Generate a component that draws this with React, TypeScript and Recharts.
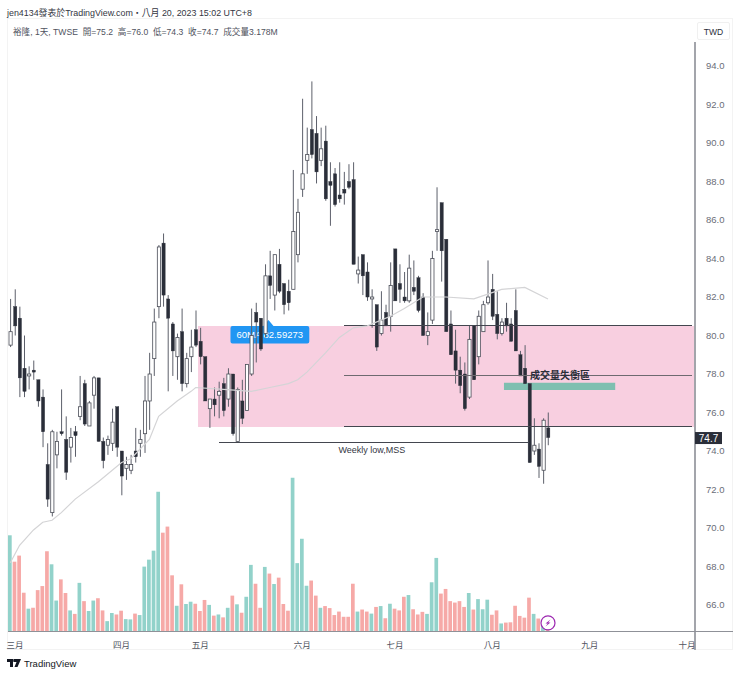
import {
  Bar,
  Cell,
  ComposedChart,
  Line,
  ReferenceArea,
  ReferenceDot,
  ReferenceLine,
  XAxis,
  YAxis,
} from "recharts";

// daily candles, 裕隆 TWSE
const opens = [
  79.5, 81.5, 80.9, 78.3, 77.9, 78.2, 77.7, 76.8, 73.3, 70.8, 73.8, 75.0, 74.6, 74.2, 75.0, 75.8,
  77.5, 75.3, 76.9, 77.8, 74.5, 74.3, 74.4, 76.3, 74.0, 73.1, 73.0, 74.0, 74.4, 74.9, 76.6, 78.8,
  81.5, 84.8, 81.9, 80.6, 78.9, 80.2, 77.5, 78.9, 80.3, 79.7, 78.9, 76.2, 76.7, 76.9, 77.5, 76.7,
  78.0, 74.5, 76.6, 76.1, 78.0, 81.2, 80.9, 80.1, 83.1, 82.1, 83.7, 82.7, 82.3, 82.4, 84.2, 87.6,
  89.1, 90.7, 90.5, 89.1, 90.1, 88.0, 88.4, 87.3, 87.6, 88.0, 88.1, 83.2, 84.2, 83.3, 81.9, 81.6,
  80.1, 81.2, 81.0, 84.5, 82.7, 82.0, 81.8, 82.5, 83.0, 82.0, 80.0, 80.8, 85.4, 86.9, 85.0, 80.6,
  79.2, 78.2, 78.0, 76.8, 80.5, 78.9, 80.2, 81.7, 82.4, 81.1, 80.1, 80.9, 80.6, 81.3, 79.0, 78.3,
  77.5, 74.0, 74.1, 73.0, 75.2,
];
const closes = [
  80.2, 80.5, 77.8, 77.1, 78.0, 78.1, 76.6, 75.0, 71.5, 75.0, 74.5, 74.9, 72.9, 74.7, 74.8, 76.3,
  75.4, 76.5, 77.8, 74.5, 73.5, 74.6, 75.5, 74.2, 72.7, 73.3, 73.3, 73.7, 74.6, 76.6, 78.0, 80.7,
  84.6, 82.1, 80.9, 79.2, 79.9, 77.5, 78.8, 79.4, 79.5, 78.9, 76.6, 76.7, 76.4, 77.1, 76.1, 78.0,
  74.9, 77.2, 75.7, 78.5, 80.0, 80.7, 79.3, 83.1, 82.6, 84.2, 82.3, 81.6, 81.7, 85.4, 86.4, 88.4,
  89.4, 89.4, 88.5, 89.7, 87.1, 87.8, 86.8, 87.1, 87.4, 87.7, 83.7, 83.4, 83.1, 82.0, 82.0, 79.4,
  80.8, 80.5, 82.6, 81.8, 82.4, 81.8, 83.5, 82.3, 81.3, 80.0, 80.2, 84.0, 85.5, 84.4, 80.2, 79.0,
  78.2, 77.4, 76.2, 79.8, 77.7, 81.0, 81.6, 82.0, 81.0, 80.1, 80.7, 80.5, 79.7, 79.2, 77.9, 77.5,
  73.4, 74.3, 73.2, 75.6, 74.7,
];
const highs = [
  81.9, 82.4, 81.5, 80.0, 78.4, 78.7, 77.7, 77.2, 74.4, 75.1, 75.0, 77.2, 75.8, 75.2, 75.3, 77.9,
  77.7, 76.6, 77.9, 77.8, 74.7, 74.8, 76.2, 76.3, 74.0, 73.7, 73.8, 75.2, 75.1, 77.9, 79.1, 81.4,
  84.7, 85.3, 82.1, 80.7, 80.1, 81.4, 79.1, 80.3, 81.3, 80.4, 78.9, 76.7, 77.3, 77.6, 77.8, 78.3,
  78.0, 77.3, 77.7, 78.5, 81.4, 81.7, 80.9, 83.7, 84.4, 84.2, 84.5, 82.7, 82.9, 88.6, 87.1, 92.3,
  90.8, 93.2, 91.4, 90.8, 90.9, 89.0, 88.7, 89.0, 88.5, 88.9, 89.0, 84.1, 84.2, 83.8, 82.4, 81.6,
  82.3, 81.6, 83.8, 84.5, 83.7, 83.3, 84.2, 83.9, 83.1, 82.2, 81.2, 84.4, 87.7, 86.9, 85.0, 81.3,
  80.3, 78.9, 78.6, 80.5, 80.5, 81.3, 81.8, 83.9, 83.2, 82.3, 80.9, 81.7, 80.9, 82.4, 79.2, 79.5,
  77.5, 75.7, 74.4, 75.7, 76.0,
];
const lows = [
  79.4, 80.0, 76.8, 76.8, 77.2, 77.7, 76.3, 74.2, 71.1, 70.6, 73.1, 74.8, 72.5, 73.4, 73.7, 75.6,
  75.3, 75.3, 76.2, 74.5, 73.1, 73.8, 74.0, 73.7, 71.7, 72.5, 72.8, 73.4, 73.7, 73.9, 75.1, 77.9,
  80.9, 81.5, 77.1, 77.9, 77.7, 77.1, 77.3, 78.1, 79.4, 78.5, 76.6, 75.2, 75.8, 75.7, 75.8, 76.3,
  74.8, 74.5, 75.4, 76.1, 77.9, 78.6, 79.2, 79.9, 81.9, 81.3, 82.2, 81.1, 81.3, 82.4, 83.8, 87.2,
  88.4, 89.2, 87.9, 88.8, 87.0, 85.7, 86.7, 86.9, 86.8, 87.6, 83.7, 82.7, 82.1, 81.8, 80.4, 79.2,
  80.0, 80.5, 80.2, 81.8, 81.7, 81.7, 81.7, 82.1, 81.2, 80.0, 79.5, 80.6, 84.4, 82.8, 80.2, 79.0,
  77.5, 77.0, 76.1, 76.7, 77.7, 78.5, 80.2, 81.6, 80.8, 79.8, 80.0, 80.2, 79.7, 79.2, 77.9, 77.5,
  73.4, 73.8, 72.6, 72.3, 74.3,
];
// 成交量, millions of shares
const volumes = [
  33.0, 23.9, 26.0, 13.2, 7.7, 8.0, 14.1, 15.5, 27.5, 23.0, 10.5, 17.8, 13.1, 7.1, 5.9, 16.6, 10.3,
  6.9, 10.5, 11.3, 7.1, 3.4, 6.2, 5.7, 7.0, 4.1, 4.0, 6.0, 5.5, 22.2, 24.6, 27.7, 48.0, 33.9, 36.0,
  19.2, 8.7, 16.1, 9.3, 10.1, 9.4, 6.9, 10.7, 9.0, 5.3, 5.7, 4.7, 8.0, 12.2, 9.2, 6.3, 11.8, 22.8,
  16.3, 8.0, 22.1, 19.8, 16.2, 18.4, 9.3, 7.0, 52.8, 23.4, 31.8, 15.6, 17.4, 12.2, 8.0, 8.6, 7.9,
  5.5, 6.7, 4.9, 4.9, 16.3, 6.7, 7.4, 6.7, 6.0, 8.3, 8.6, 4.4, 9.4, 7.7, 7.1, 11.8, 12.4, 7.5, 5.7,
  6.6, 5.9, 16.8, 25.2, 12.9, 14.5, 10.3, 9.8, 10.3, 8.3, 13.1, 7.4, 11.0, 7.5, 10.8, 5.6, 7.1, 2.6,
  2.9, 3.0, 8.7, 5.2, 4.6, 11.5, 5.9, 4.3, 2.2, 3.2,
];
// 60MA, only where the line could be read
const maDays = [
  0, 2, 5, 7, 9, 11, 14, 19, 24, 26, 30, 32, 36, 39, 40, 46, 52, 56, 60, 62, 64, 68, 71, 74, 77, 82,
  85, 89, 94, 100, 106, 111, 116,
];
const maValues = [
  68.2, 69.1, 69.9, 70.3, 70.4, 70.8, 71.5, 72.4, 73.4, 73.6, 74.6, 75.8, 76.6, 77.1, 77.3, 77.2,
  77.1, 77.3, 77.5, 77.7, 78.1, 79.1, 79.9, 80.4, 80.5, 81.0, 81.4, 82.0, 82.0, 81.9, 82.4, 82.5,
  81.9,
];
const monthDays = [1, 24, 41, 63, 83, 104, 125, 146];
const monthLabels = ["三月", "四月", "五月", "六月", "七月", "八月", "九月", "十月"];
const priceTicks = [66, 68, 70, 72, 74, 76, 78, 80, 82, 84, 86, 88, 90, 92, 94];

const SLOTS = 148;
const rows = Array.from({ length: SLOTS }, (_, i) => {
  const maAt = maDays.indexOf(i);
  return {
    day: i,
    open: opens[i] ?? null,
    close: closes[i] ?? null,
    high: highs[i] ?? null,
    low: lows[i] ?? null,
    volume: volumes[i] ?? null,
    ma: maAt >= 0 ? maValues[maAt] : null,
  };
});

const FONT = '"Liberation Sans", "Noto Sans CJK TC", sans-serif';
const DARK = "#2a2e39";
const AXIS = "#a3a5ab";

function Candle(props: any) {
  const { x, y, width, height, payload } = props;
  if (payload.high == null) return null;
  const perUnit = height / (payload.high - payload.low);
  const top = y + (payload.high - Math.max(payload.open, payload.close)) * perUnit;
  const bottom = y + (payload.high - Math.min(payload.open, payload.close)) * perUnit;
  const up = payload.close >= payload.open;
  const cx = x + width / 2;
  return (
    <g>
      <line x1={cx} x2={cx} y1={y} y2={y + height} stroke="#5d606b" strokeWidth={1} />
      <rect
        x={x}
        y={top}
        width={width}
        height={Math.max(bottom - top, 1)}
        fill={up ? "#fff" : DARK}
        stroke={up ? "#4a4d57" : DARK}
        strokeWidth={up ? 0.8 : 0.4}
      />
    </g>
  );
}

function MaTag(props: any) {
  const { x, y, width, height } = props;
  const tip = x + 38;
  return (
    <g>
      <path
        d={`M${x + 2} ${y}H${tip - 5}L${tip} ${y - 6}L${tip + 5} ${y}H${x + width - 2}Q${x + width} ${y} ${x + width} ${y + 2}V${y + height - 2}Q${x + width} ${y + height} ${x + width - 2} ${y + height}H${x + 2}Q${x} ${y + height} ${x} ${y + height - 2}V${y + 2}Q${x} ${y} ${x + 2} ${y}Z`}
        fill="#2196f3"
      />
      <text x={x + 6} y={y + 12.5} fontSize={9.5} fill="#fff" fontFamily={FONT}>
        60MA 82.59273
      </text>
    </g>
  );
}

function LastPriceTag(props: any) {
  const { y } = props.viewBox;
  return (
    <g>
      <rect x={695} y={y - 5.5} width={27} height={12} fill="#2a2e39" />
      <text x={708.5} y={y + 4} fontSize={10} fill="#fff" textAnchor="middle" fontFamily={FONT}>
        74.7
      </text>
    </g>
  );
}

function Bolt(props: any) {
  const { cx, cy } = props;
  return (
    <g>
      <circle cx={cx} cy={cy} r={7} fill="#fff" stroke="#9c27b0" strokeWidth={1.2} />
      <path
        d={`M${cx + 2.5} ${cy - 3.5}L${cx - 2.5} ${cy + 0.5}H${cx - 0.2}L${cx - 2.5} ${cy + 3.5}L${cx + 2.5} ${cy - 0.5}H${cx + 0.2}Z`}
        fill="#9c27b0"
      />
    </g>
  );
}

export default function App() {
  return (
    <div
      style={{
        position: "absolute",
        left: 0,
        top: 0,
        width: 740,
        height: 676,
        background: "#fff",
        fontFamily: FONT,
      }}
    >
      <div
        style={{
          position: "absolute",
          left: 7,
          top: 6,
          fontSize: 8.9,
          color: "#33363f",
          whiteSpace: "nowrap",
        }}
      >
        jen4134發表於TradingView.com・八月 20, 2023 15:02 UTC+8
      </div>
      <div
        style={{
          position: "absolute",
          left: 7,
          top: 18,
          width: 726,
          height: 632,
          border: "1px solid #f3f3f3",
          boxSizing: "border-box",
        }}
      />
      <div
        style={{
          position: "absolute",
          left: 13,
          top: 25,
          fontSize: 8.6,
          color: "#50535e",
          whiteSpace: "pre",
        }}
      >
        裕隆, 1天, TWSE{"  "}開=75.2{"  "}高=76.0{"  "}低=74.3{"  "}收=74.7{"  "}成交量3.178M
      </div>
      <div
        style={{
          position: "absolute",
          left: 697,
          top: 22,
          width: 33,
          height: 18,
          lineHeight: "18px",
          textAlign: "center",
          fontSize: 8.5,
          color: "#2a2e39",
          border: "1px solid #f0f0f0",
          borderRadius: 2,
          boxSizing: "border-box",
        }}
      >
        TWD
      </div>
      {/* the two axes run on past the plot */}
      <div style={{ position: "absolute", left: 694, top: 42, width: 2, height: 608, background: AXIS }} />
      <div style={{ position: "absolute", left: 8, top: 630.5, width: 725, height: 1.4, background: "#8f9198" }} />
      <svg style={{ position: "absolute", left: 7, top: 659 }} width={14} height={9}>
        <path d="M0 0H6V8H3V3H0ZM6.5 0H14L10.5 8H7.5L9.5 3H6.5Z" fill="#131722" />
        <circle cx={8} cy={1.5} r={1.5} fill="#131722" />
      </svg>
      <div
        style={{
          position: "absolute",
          left: 24,
          top: 658,
          fontSize: 9.5,
          color: "#131722",
          whiteSpace: "nowrap",
        }}
      >
        TradingView
      </div>
      <ComposedChart
        width={740}
        height={676}
        data={rows}
        margin={{ top: 46, right: 0, bottom: 0, left: 8 }}
        style={{ position: "absolute", left: 0, top: 0 }}
      >
        <XAxis
          dataKey="day"
          type="category"
          ticks={monthDays}
          interval={0}
          tickFormatter={(d: number) => monthLabels[monthDays.indexOf(d)]}
          tick={{ fontSize: 8.5, fill: "#50535e", fontFamily: FONT }}
          tickLine={false}
          axisLine={false}
          height={45}
          tickMargin={5}
        />
        <XAxis xAxisId="vol" dataKey="day" type="category" hide />
        <YAxis
          yAxisId="price"
          orientation="right"
          domain={[64.65, 95.04]}
          allowDataOverflow
          ticks={priceTicks}
          tickFormatter={(v: number) => v.toFixed(1)}
          tick={{ fontSize: 9.5, fill: "#6a6d78", fontFamily: FONT }}
          tickLine={false}
          axisLine={false}
          width={46}
          tickMargin={6}
        />
        <YAxis yAxisId="vol" domain={[0, 201.7]} allowDataOverflow hide />
        <ReferenceArea
          yAxisId="price"
          x1={41}
          x2={147}
          y1={75.25}
          y2={80.5}
          ifOverflow="visible"
          fill="#f8cfe0"
          fillOpacity={1}
          stroke="none"
        />
        <ReferenceArea
          yAxisId="price"
          x1={48}
          x2={64}
          y1={79.58}
          y2={80.5}
          shape={MaTag}
        />
        <ReferenceArea
          yAxisId="price"
          x1={107}
          x2={130}
          y1={77.17}
          y2={77.55}
          fill="#7fbfb0"
          fillOpacity={1}
          stroke="none"
        />
        <ReferenceLine
          yAxisId="price"
          segment={[{ x: 72, y: 80.5 }, { x: 147, y: 80.5 }]}
          stroke="#43464f"
          strokeWidth={1}
          shapeRendering="crispEdges"
        />
        <ReferenceLine
          yAxisId="price"
          segment={[{ x: 72, y: 77.9 }, { x: 147, y: 77.9 }]}
          stroke="#6e6a70"
          strokeWidth={1}
          shapeRendering="crispEdges"
        />
        <ReferenceLine
          yAxisId="price"
          segment={[{ x: 72, y: 75.25 }, { x: 147, y: 75.25 }]}
          stroke="#43464f"
          strokeWidth={1}
          shapeRendering="crispEdges"
        />
        <ReferenceLine
          yAxisId="price"
          segment={[{ x: 45, y: 74.45 }, { x: 112, y: 74.45 }]}
          stroke="#43464f"
          strokeWidth={1}
          shapeRendering="crispEdges"
        />
        <ReferenceDot
          yAxisId="price"
          x={78}
          y={74.05}
          r={0}
          label={{ value: "Weekly low,MSS", fontSize: 9, fill: "#33363f", fontFamily: FONT }}
        />
        <ReferenceDot
          yAxisId="price"
          x={119}
          y={77.95}
          r={0}
          label={{
            value: "成交量失衡區",
            fontSize: 10,
            fontWeight: 600,
            fill: "#2a2e39",
            fontFamily: FONT,
            dx: -2,
          }}
        />
        <Bar
          yAxisId="vol"
          xAxisId="vol"
          dataKey="volume"
          barSize={3.7}
          isAnimationActive={false}
        >
          {rows.map((r) => (
            <Cell
              key={r.day}
              fill={(r.close ?? 0) >= (r.open ?? 0) ? "#92d2ca" : "#f6a9a7"}
            />
          ))}
        </Bar>
        <Line
          yAxisId="price"
          dataKey="ma"
          connectNulls
          dot={false}
          stroke="#d4d4d6"
          strokeWidth={1.2}
          isAnimationActive={false}
        />
        <Bar
          yAxisId="price"
          dataKey={(r: any) => (r.high == null ? null : [r.low, r.high])}
          barSize={3.2}
          shape={Candle}
          isAnimationActive={false}
        />
        <ReferenceLine
          yAxisId="price"
          y={74.7}
          stroke="none"
          label={LastPriceTag}
        />
        <ReferenceDot
          yAxisId="vol"
          x={116}
          y={2.8}
          r={7}
          shape={Bolt}
        />
      </ComposedChart>
    </div>
  );
}
